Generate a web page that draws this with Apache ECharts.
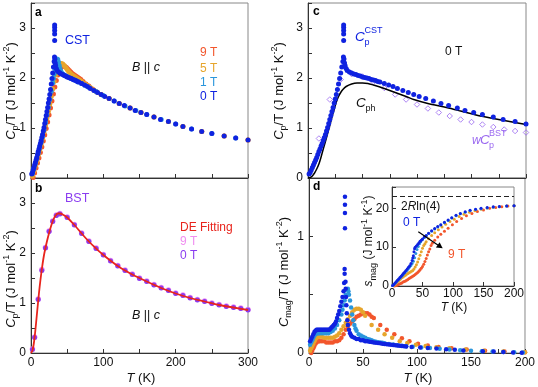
<!DOCTYPE html>
<html><head><meta charset="utf-8">
<script src="https://cdn.jsdelivr.net/npm/echarts@6/dist/echarts.min.js"></script>
<style>html,body{margin:0;padding:0;background:#fff}#c{width:538px;height:387px}</style>
</head><body><div id="c"></div>
<script>
// ---------- Panel a / c : CST Cp/T (J mol-1 K-2) vs T (K) ----------
const cst0T = [[1,0.08],[2,0.11],[3,0.16],[4,0.21],[5,0.26],[6,0.31],[7,0.36],[8,0.41],[9,0.47],[10,0.53],[11,0.58],[12,0.64],[13,0.69],[14,0.75],[15,0.81],[16,0.87],[17,0.94],[18,1.01],[19,1.09],[20,1.17],[21,1.25],[22,1.33],[23,1.41],[24,1.5],[25,1.58],[26,1.67],[27,1.77],[28,1.88],[29,1.99],[30,2.1],[31,2.22],[32,2.33],[32.5,2.42],[32.7,2.75],[32.7,2.88],[32.7,2.95],[32.7,3.01],[32.7,3.06],[33,2.38],[33.5,2.3],[34,2.25],[35,2.19],[36,2.15],[38,2.12],[40,2.1],[42,2.08],[44,2.07],[46,2.05],[48,2.04],[50,2.02],[52,2.01],[54,2.0],[56,1.99],[58,1.97],[60,1.96],[62,1.95],[64,1.93],[66,1.92],[70,1.89],[74,1.86],[78,1.83],[82,1.79],[87,1.75],[92,1.71],[97,1.67],[102,1.63],[108,1.59],[115,1.54],[122,1.49],[129,1.45],[137,1.4],[144,1.35],[152,1.31],[160,1.27],[170,1.22],[179,1.17],[190,1.13],[200,1.08],[210,1.03],[222,0.98],[236,0.93],[250,0.89],[267,0.84],[283,0.8],[300,0.76]];
const cst1T = [[2,0.09],[4,0.19],[6,0.29],[8,0.39],[10,0.5],[12,0.61],[14,0.72],[16,0.84],[18,0.97],[20,1.11],[22,1.26],[24,1.41],[26,1.57],[28,1.73],[30,1.9],[31,1.99],[32,2.08],[33,2.18],[34,2.27],[35,2.34],[36,2.38],[37,2.37],[38,2.32],[39,2.25],[40,2.19],[41,2.14],[42,2.11],[44,2.08],[46,2.06],[48,2.04],[50,2.03],[55,1.99],[60,1.96],[65,1.92],[70,1.89],[75,1.85],[80,1.81],[90,1.73],[100,1.65],[115,1.54],[130,1.44],[145,1.35],[160,1.27],[180,1.17],[200,1.08],[222,0.98],[250,0.89],[283,0.8]];
const cst5T = [[2,0.04],[4,0.14],[6,0.24],[8,0.34],[10,0.45],[12,0.56],[14,0.67],[16,0.79],[18,0.92],[20,1.05],[22,1.19],[24,1.33],[26,1.48],[28,1.63],[30,1.78],[32,1.93],[34,2.06],[36,2.16],[38,2.23],[40,2.27],[42,2.29],[44,2.28],[46,2.25],[48,2.21],[50,2.17],[52,2.13],[54,2.1],[56,2.07],[58,2.05],[60,2.03],[62,2.01],[64,1.99],[66,1.97],[68,1.95],[70,1.93],[74,1.89],[78,1.85],[82,1.81],[87,1.76],[92,1.71],[97,1.67],[108,1.59],[122,1.49],[137,1.4],[152,1.31],[170,1.22],[190,1.13],[210,1.03],[236,0.93],[267,0.84],[300,0.76]];
const cst9T = [[3,0.01],[5,0.1],[7,0.2],[9,0.3],[11,0.4],[13,0.51],[15,0.62],[17,0.74],[19,0.86],[21,0.99],[23,1.12],[25,1.26],[27,1.4],[29,1.54],[31,1.68],[33,1.82],[35,1.95],[37,2.06],[39,2.14],[41,2.2],[43,2.23],[45,2.24],[47,2.23],[49,2.21],[51,2.18],[53,2.15],[55,2.12],[57,2.09],[59,2.07],[61,2.05],[63,2.03],[65,2.01],[67,1.99],[69,1.97],[72,1.93],[76,1.88],[80,1.84],[85,1.78],[90,1.73],[97,1.67],[108,1.59],[122,1.49],[137,1.4],[152,1.31],[170,1.22],[190,1.13],[210,1.03],[236,0.93],[267,0.84],[300,0.76]];

// ---------- Panel b : BST ----------
const bst0T = [[2,0.07],[5,0.31],[10,1.07],[15,1.65],[20,2.1],[25,2.43],[30,2.63],[35,2.75],[40,2.78],[50,2.71],[60,2.56],[70,2.39],[80,2.23],[90,2.09],[100,1.96],[110,1.84],[120,1.74],[130,1.65],[140,1.57],[150,1.49],[160,1.43],[170,1.36],[180,1.3],[190,1.25],[200,1.19],[210,1.15],[220,1.1],[230,1.06],[240,1.03],[250,0.99],[260,0.96],[270,0.93],[280,0.91],[290,0.89],[300,0.86]];
const bst9T = [[2,0.08],[5,0.32],[10,1.08],[15,1.67],[20,2.11],[25,2.44],[30,2.64],[35,2.76],[40,2.79],[50,2.72],[60,2.57],[70,2.4],[80,2.24],[90,2.1],[100,1.97],[110,1.85],[120,1.75],[130,1.66],[140,1.58],[150,1.5],[160,1.44],[170,1.37],[180,1.31],[190,1.26],[200,1.2],[210,1.16],[220,1.11],[230,1.07],[240,1.04],[250,1.0],[260,0.97],[270,0.94],[280,0.92],[290,0.9],[300,0.87]];
const deFit = [[0,0],[2,0.05],[4,0.2],[6,0.45],[8,0.75],[10,1.05],[12,1.33],[14,1.57],[16,1.78],[18,1.96],[20,2.1],[22,2.23],[25,2.4],[28,2.55],[31,2.67],[34,2.75],[37,2.79],[40,2.79],[45,2.76],[50,2.71],[60,2.56],[70,2.39],[80,2.23],[90,2.09],[100,1.96],[120,1.74],[140,1.57],[160,1.43],[180,1.3],[200,1.19],[220,1.1],[240,1.03],[260,0.96],[280,0.91],[300,0.86]];

// ---------- Panel c : phonon and scaled BST ----------
const cph = [[0,0],[2,0.01],[4,0.04],[6,0.1],[8,0.18],[10,0.28],[12,0.42],[14,0.58],[16,0.73],[18,0.89],[20,1.05],[22,1.22],[24,1.37],[26,1.52],[28,1.63],[30,1.71],[32,1.77],[35,1.83],[40,1.88],[45,1.9],[50,1.9],[55,1.89],[60,1.86],[66,1.82],[70,1.79],[80,1.71],[90,1.63],[97,1.57],[110,1.49],[127,1.41],[140,1.34],[158,1.24],[180,1.15],[200,1.07]];
const wBst = [[10,0.79],[20,1.57],[30,1.97],[40,2.08],[50,2.03],[60,1.92],[70,1.8],[80,1.67],[90,1.57],[100,1.47],[110,1.39],[120,1.31],[130,1.24],[140,1.17],[150,1.12],[160,1.07],[170,1.02],[180,0.97],[190,0.94],[200,0.91]];

// ---------- Panel d : Cmag/T ----------
const mag0T = [[1,0.1],[2,0.12],[3,0.14],[4,0.16],[5,0.18],[6,0.19],[7,0.2],[8,0.2],[9,0.2],[10,0.2],[11,0.2],[12,0.2],[13,0.2],[14,0.2],[15,0.2],[16,0.2],[17,0.2],[18,0.2],[19,0.2],[20,0.21],[21,0.22],[22,0.23],[23,0.24],[24,0.25],[25,0.27],[26,0.3],[27,0.33],[28,0.36],[29,0.4],[30,0.44],[31,0.48],[32,0.53],[32.5,0.6],[33,0.68],[33,0.72],[33.3,1.07],[33.3,1.2],[33.3,1.27],[33.3,1.34],[33.8,0.61],[34,0.55],[34.3,0.48],[34.6,0.41],[35,0.34],[35.5,0.28],[36,0.24],[37,0.2],[38,0.17],[39,0.15],[40,0.14],[42,0.13],[44,0.12],[46,0.12],[48,0.11],[50,0.11],[52,0.1],[54,0.1],[56,0.097],[58,0.095],[60,0.09],[62,0.088],[64,0.085],[66,0.083],[68,0.08],[70,0.078],[72,0.075],[74,0.073],[76,0.07],[78,0.068],[80,0.066],[82,0.064],[84,0.062],[86,0.06],[88,0.058],[90,0.056],[95,0.052],[103,0.047],[110,0.043],[118,0.038],[127,0.032],[135,0.027],[143,0.022],[161,0.015],[171,0.012],[180,0.008],[189,0.005],[197,0.003]];
const mag1T = [[1,0.07],[2,0.09],[3,0.11],[4,0.13],[5,0.15],[6,0.16],[7,0.17],[8,0.17],[9,0.17],[10,0.17],[12,0.17],[14,0.17],[16,0.17],[18,0.17],[20,0.18],[22,0.19],[24,0.21],[26,0.24],[28,0.28],[30,0.33],[31,0.37],[32,0.41],[33,0.45],[34,0.5],[35,0.54],[36,0.55],[36.5,0.53],[37,0.5],[38,0.45],[39,0.39],[40,0.33],[41,0.28],[42,0.24],[43,0.21],[44,0.19],[46,0.16],[48,0.15],[50,0.14],[52,0.13],[54,0.12],[56,0.115],[58,0.11],[60,0.1],[62,0.097],[64,0.093],[66,0.09],[68,0.087],[70,0.084],[74,0.078],[78,0.072],[82,0.067],[86,0.062],[90,0.058],[96,0.053],[104,0.047],[112,0.042],[121,0.036],[130,0.03],[140,0.024],[150,0.02],[160,0.016],[170,0.012],[180,0.009],[190,0.006],[198,0.004]];
const mag5T = [[1,0.02],[2,0.04],[3,0.06],[4,0.08],[5,0.1],[6,0.12],[7,0.13],[8,0.14],[9,0.14],[10,0.14],[12,0.14],[14,0.13],[16,0.13],[18,0.13],[20,0.13],[22,0.13],[24,0.14],[26,0.15],[28,0.17],[30,0.2],[32,0.23],[34,0.26],[36,0.29],[38,0.32],[40,0.35],[42,0.37],[44,0.38],[46,0.38],[48,0.37],[50,0.35],[52,0.32],[58,0.24],[64,0.2],[70,0.16],[77,0.13],[84,0.1],[91,0.085],[99,0.07],[108,0.06],[118,0.05],[130,0.04],[145,0.03],[162,0.02],[180,0.012],[200,0.006]];
const mag9T = [[2,0.0],[3,0.02],[4,0.04],[5,0.06],[6,0.08],[7,0.09],[8,0.1],[9,0.1],[10,0.1],[12,0.1],[14,0.1],[16,0.09],[18,0.09],[20,0.09],[22,0.09],[24,0.1],[26,0.1],[28,0.11],[30,0.13],[32,0.16],[34,0.2],[36,0.23],[38,0.25],[40,0.27],[42,0.29],[44,0.31],[46,0.32],[48,0.33],[50,0.34],[52,0.34],[54,0.34],[56,0.33],[58,0.31],[60,0.3],[66,0.24],[72,0.2],[79,0.16],[86,0.126],[93,0.1],[101,0.08],[110,0.065],[120,0.052],[132,0.04],[146,0.03],[163,0.02],[181,0.012],[200,0.006]];

// ---------- Inset : s_mag (J mol-1 K-1) ----------
const smag0T = [[1,0.1],[3,0.4],[5,0.8],[7,1.1],[9,1.5],[11,1.8],[13,2.2],[15,2.5],[17,2.9],[19,3.3],[21,3.6],[23,4.0],[25,4.4],[27,4.8],[29,5.2],[31,5.8],[33,6.6],[34,7.2],[35,7.8],[36,8.8],[37,9.6],[38,10.0],[40,10.3],[42,10.7],[44,11.1],[46,11.5],[48,11.8],[50,12.1],[53,12.6],[56,13.0],[60,13.6],[65,14.2],[70,14.8],[75,15.3],[80,15.8],[86,16.4],[92,17.0],[98,17.6],[105,18.2],[112,18.7],[120,19.1],[128,19.5],[137,19.8],[146,20.0],[156,20.2],[166,20.4],[176,20.5],[188,20.6],[200,20.7]];
const smag1T = [[1,0.1],[3,0.35],[5,0.7],[7,1.0],[9,1.4],[11,1.7],[13,2.0],[15,2.4],[17,2.7],[19,3.1],[21,3.4],[23,3.8],[25,4.1],[27,4.5],[29,4.9],[31,5.3],[33,5.8],[35,6.4],[37,7.3],[39,8.4],[41,9.4],[43,10.2],[45,10.9],[47,11.4],[50,12.0],[53,12.5],[56,12.9],[60,13.5],[65,14.1],[70,14.7],[75,15.2],[80,15.7],[86,16.3],[92,16.9],[98,17.5],[105,18.1],[112,18.6],[120,19.0],[128,19.4],[137,19.7],[146,19.9],[156,20.1],[166,20.3],[176,20.4],[188,20.6],[200,20.7]];
const smag5T = [[2,0.1],[4,0.3],[6,0.6],[8,0.9],[10,1.2],[12,1.5],[14,1.8],[16,2.1],[18,2.3],[20,2.6],[22,2.8],[24,3.0],[26,3.2],[28,3.4],[30,3.6],[32,3.8],[34,4.0],[36,4.4],[38,4.9],[40,5.5],[42,6.2],[44,7.0],[46,7.9],[48,8.8],[50,9.7],[52,10.4],[54,10.9],[56,11.4],[60,12.2],[65,13.0],[70,13.7],[76,14.5],[82,15.2],[88,15.9],[95,16.6],[102,17.2],[110,17.9],[118,18.5],[127,19.0],[136,19.4],[146,19.8],[156,20.1],[166,20.3],[176,20.4],[188,20.6],[200,20.7]];
const smag9T = [[4,0.0],[6,0.1],[8,0.2],[10,0.35],[12,0.5],[14,0.65],[16,0.8],[18,1.0],[20,1.15],[22,1.3],[24,1.5],[26,1.7],[28,1.9],[30,2.1],[32,2.3],[34,2.5],[36,2.7],[38,2.95],[40,3.2],[42,3.5],[44,3.8],[46,4.2],[48,4.6],[50,5.0],[52,5.6],[54,6.3],[56,7.1],[58,8.0],[60,8.8],[62,9.5],[64,10.4],[66,11.0],[70,11.8],[75,12.6],[80,13.3],[86,14.1],[92,14.9],[99,15.8],[106,16.6],[114,17.4],[122,18.1],[131,18.7],[140,19.2],[150,19.6],[160,20.0],[170,20.2],[180,20.4],[190,20.6],[200,20.7]];
const entropyLimit = 23.05; // 2R ln(4)

// ---------- styling ----------
const FONT = 'Liberation Sans, Arial, Helvetica, sans-serif';
const AX = '#333';
const C0 = '#0f22e0', C1 = '#2a96dc', C5 = '#e6a52c', C9 = '#f2562c';
const PURPLE = '#8a3cf0', PINK = '#f08ef0', FITRED = '#e8241c', DIAM = '#9a68f0';

const isInt = v => Math.abs(v - Math.round(v)) < 1e-9;
function xax(gi, min, max, interval, fmt, margin) {
  return {gridIndex: gi, type: 'value', min, max, interval,
    axisLine: {show: true, onZero: false, lineStyle: {color: AX, width: 1}},
    axisTick: {show: true, inside: true, length: 4, lineStyle: {color: AX}},
    axisLabel: fmt ? {show: true, formatter: fmt, fontSize: 12, color: '#111', fontFamily: FONT, margin: margin || 4} : {show: false},
    splitLine: {show: false}};
}
function yax(gi, min, max, interval, fmt, margin) {
  return {gridIndex: gi, type: 'value', min, max, interval,
    axisLine: {show: true, onZero: false, lineStyle: {color: AX, width: 1}},
    axisTick: {show: true, inside: true, length: 4, lineStyle: {color: AX}},
    axisLabel: {show: true, formatter: fmt, fontSize: 12, color: '#111', fontFamily: FONT, margin: margin || 5},
    splitLine: {show: false}};
}
function sc(data, gi, color, size, z, extra) {
  return Object.assign({type: 'scatter', xAxisIndex: gi, yAxisIndex: gi, data, symbol: 'circle',
    symbolSize: size, itemStyle: {color: color, opacity: 1}, z: z, silent: true, clip: true,
    emphasis: {disabled: true}}, extra || {});
}
function gridBox(left, top, width, height) {
  return {left, top, width, height, show: true, borderColor: '#888', borderWidth: 1, backgroundColor: 'transparent'};
}
const richBase = (size, color) => ({
  i: {fontStyle: 'italic', fontSize: size, fontFamily: FONT, lineHeight: 18, fill: color},
  n: {fontSize: size, fontFamily: FONT, lineHeight: 18, fill: color},
  sub: {fontSize: 9, fontFamily: FONT, lineHeight: 9, verticalAlign: 'bottom', fill: color},
  sup: {fontSize: 9, fontFamily: FONT, lineHeight: 9, verticalAlign: 'top', fill: color}
});
function rtext(x, y, text, color, size, rot, align) {
  return {type: 'text', x, y, rotation: rot || 0, z: 100, silent: true,
    style: {text, rich: richBase(size || 12, color || '#111'), align: align || 'center', verticalAlign: 'middle', fill: color || '#111'}};
}
function ptext(x, y, text, color, size, opts) {
  return {type: 'text', x, y, z: 100, silent: true,
    style: Object.assign({text, fill: color, fontSize: size || 12, fontFamily: FONT, align: 'left', verticalAlign: 'middle'}, opts || {})};
}

const yTitleCp = '{i|C}{sub|p}{n|/T (J mol}{sup|-1}{n| K}{sup|-2}{n|)}';
const yTitleMag = '{i|C}{sub|mag}{n|/T (J mol}{sup|-1}{n| K}{sup|-2}{n|)}';
const yTitleS = '{i|s}{sub|mag}{n| (J mol}{sup|-1}{n| K}{sup|-1}{n|)}';
const xTitle = '{i|T}{n| (K)}';

const chart = echarts.init(document.getElementById('c'), null, {renderer: 'canvas'});
const option = {
  animation: false,
  backgroundColor: '#fff',
  grid: [gridBox(31, 3, 217, 175), gridBox(31, 178, 217, 175), gridBox(308, 3, 218, 175), gridBox(309, 178, 216, 175), gridBox(392, 187, 122, 99)],
  xAxis: [
    xax(0, 0, 300, 50, null),
    xax(1, 0, 300, 50, v => (v % 100 === 0 ? String(v) : '')),
    xax(2, 0, 200, 25, null),
    xax(3, 0, 200, 25, v => (v % 50 === 0 ? String(v) : '')),
    xax(4, 0, 200, 50, v => String(v), 2)
  ],
  yAxis: [
    yax(0, 0, 3.5, 0.5, v => (isInt(v) ? String(v) : '')),
    yax(1, 0, 3.5, 0.5, v => (isInt(v) ? String(v) : '')),
    yax(2, 0, 3.5, 0.5, v => (isInt(v) ? String(v) : '')),
    yax(3, 0, 1.5, 0.5, v => (isInt(v) ? String(v) : '')),
    yax(4, 0, 25.5, 10, v => (v % 10 === 0 ? String(v) : ''), 3)
  ],
  series: [
    // panel a
    sc(cst9T, 0, C9, 5, 2), sc(cst5T, 0, C5, 5, 3), sc(cst1T, 0, C1, 5, 4), sc(cst0T, 0, C0, 5, 5),
    // panel b
    sc(bst9T, 1, PINK, 5.5, 2), sc(bst0T, 1, PURPLE, 5, 3),
    {type: 'line', xAxisIndex: 1, yAxisIndex: 1, data: deFit, showSymbol: false, smooth: 0.3, silent: true,
      lineStyle: {color: FITRED, width: 1.8}, z: 6},
    // panel c
    sc(wBst, 2, 'rgba(255,255,255,0)', 5.5, 2, {symbol: 'diamond', itemStyle: {color: 'rgba(255,255,255,0)', borderColor: DIAM, borderWidth: 1}}),
    {type: 'line', xAxisIndex: 2, yAxisIndex: 2, data: cph, showSymbol: false, smooth: 0.3, silent: true,
      lineStyle: {color: '#000', width: 1.5}, z: 3},
    sc(cst0T, 2, C0, 5, 5),
    // panel d
    sc(mag9T, 3, C9, 4.5, 2), sc(mag5T, 3, C5, 4.5, 3), sc(mag1T, 3, C1, 4.5, 4), sc(mag0T, 3, C0, 4.5, 5),
    // inset
    sc(smag9T, 4, C9, 3, 6), sc(smag5T, 4, C5, 3, 7), sc(smag1T, 4, C1, 3, 8),
    sc(smag0T, 4, C0, 3, 9, {markLine: {silent: true, symbol: 'none', label: {show: false},
      lineStyle: {type: [5, 3], color: '#222', width: 1}, data: [{yAxis: entropyLimit}]}})
  ],
  graphic: [
    // panel letters
    ptext(35, 13, 'a', '#000', 12, {fontWeight: 'bold'}),
    ptext(35, 189, 'b', '#000', 12, {fontWeight: 'bold'}),
    ptext(313, 12, 'c', '#000', 12, {fontWeight: 'bold'}),
    ptext(313, 187, 'd', '#000', 12, {fontWeight: 'bold'}),
    // axis titles
    rtext(11, 91, yTitleCp, '#111', 13, Math.PI / 2),
    rtext(11, 279, yTitleCp, '#111', 13, Math.PI / 2),
    rtext(279, 91, yTitleCp, '#111', 13, Math.PI / 2),
    rtext(284, 272, yTitleMag, '#111', 13, Math.PI / 2),
    rtext(369, 241, yTitleS, '#111', 12, Math.PI / 2),
    rtext(141, 378, xTitle, '#111', 13),
    rtext(418, 378, xTitle, '#111', 13),
    rtext(454, 308, xTitle, '#111', 12),
    // panel a annotations
    ptext(65, 41, 'CST', C0, 12.5),
    rtext(146, 68, '{i|B}{n| || }{i|c}', '#111', 12.5),
    ptext(200, 53, '9 T', C9, 12), ptext(200, 68.5, '5 T', C5, 12),
    ptext(200, 82.5, '1 T', C1, 12), ptext(200, 97, '0 T', C0, 12),
    // panel b annotations
    ptext(65, 199, 'BST', PURPLE, 12.5),
    ptext(180, 228, 'DE Fitting', FITRED, 12),
    ptext(180, 242, '9 T', PINK, 12), ptext(180, 256, '0 T', PURPLE, 12),
    rtext(146, 316, '{i|B}{n| || }{i|c}', '#111', 12.5),
    // panel c annotations
    ptext(355, 37, 'C', C0, 13.5, {fontStyle: 'italic'}),
    ptext(364.5, 42.5, 'p', C0, 9),
    ptext(364.5, 31, 'CST', C0, 9),
    ptext(445, 52, '0 T', '#111', 12),
    ptext(356, 103, 'C', '#111', 13.5, {fontStyle: 'italic'}),
    ptext(365.5, 108.5, 'ph', '#111', 9),
    ptext(472, 141, 'w', DIAM, 12, {fontStyle: 'italic'}),
    ptext(480, 140, 'C', DIAM, 13.5, {fontStyle: 'italic'}),
    ptext(489, 146, 'p', DIAM, 9),
    ptext(489, 134, 'BST', DIAM, 9),
    // inset annotations
    rtext(401, 207, '{n|2}{i|R}{n|ln(4)}', '#111', 12, 0, 'left'),
    ptext(403, 223, '0 T', C0, 12),
    ptext(448, 255, '9 T', C9, 12),
    {type: 'line', z: 100, silent: true, shape: {x1: 418.3, y1: 231.7, x2: 438.2, y2: 245.2}, style: {stroke: '#000', lineWidth: 1.2}},
    {type: 'polygon', z: 100, silent: true, shape: {points: [[442.7, 248.3], [435.9, 247.6], [439.6, 242.2]]}, style: {fill: '#000'}}
  ]
};
chart.setOption(option);
</script>
</body></html>
